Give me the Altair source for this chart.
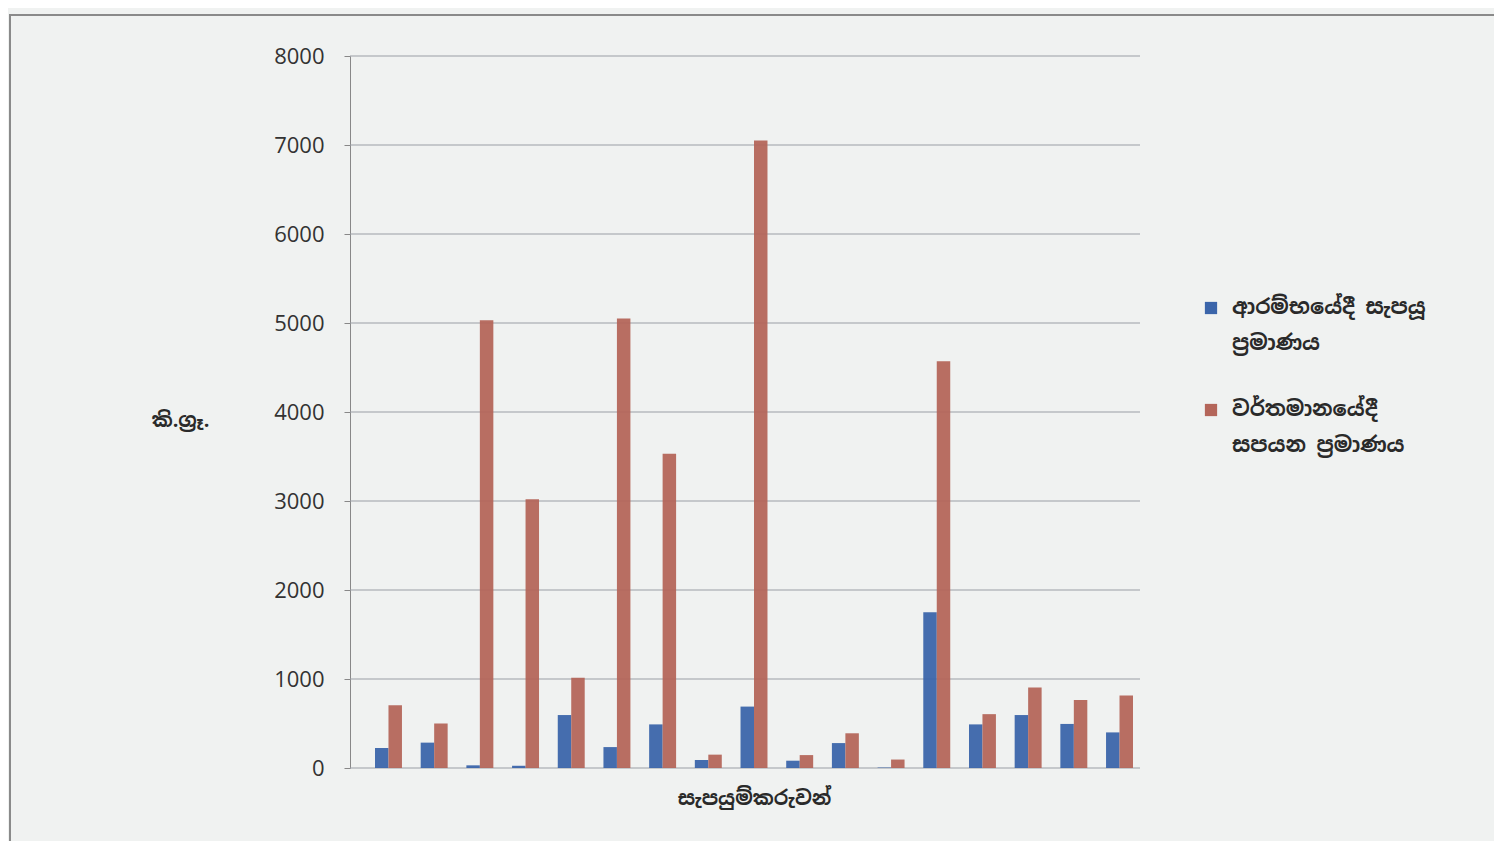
import altair as alt
import pandas as pd

suppliers = [str(i) for i in range(1, 18)]
initial = [225, 285, 30, 25, 595, 235, 490, 90, 690, 82, 280, 5, 1750, 490, 595, 495, 400]
current = [705, 500, 5030, 3020, 1015, 5050, 3530, 150, 7050, 145, 390, 95, 4570, 605, 905, 765, 815]
series = ["ආරම්භයේදී සැපයූ ප්‍රමාණය", "වර්තමානයේදී සපයන ප්‍රමාණය"]
legend_lines = ["ආරම්භයේදී සැපයූ|ප්‍රමාණය", "වර්තමානයේදී|සපයන ප්‍රමාණය"]
colors = ["#3b65aa", "#b4665a"]
y_ticks = list(range(0, 8001, 1000))

rows = []
for i, s in enumerate(suppliers):
    rows.append({"supplier": s, "series": series[0], "value": initial[i]})
    rows.append({"supplier": s, "series": series[1], "value": current[i]})
df = pd.DataFrame(rows)
grid_df = pd.DataFrame({"value": y_ticks})
leg_df = pd.DataFrame({"series": series, "label": legend_lines})

FONT = "Noto Sans Sinhala, Noto Sans, DejaVu Sans, sans-serif"
color_scale = alt.Scale(domain=series, range=colors)
y_scale = alt.Scale(domain=[0, 8000])
y_axis = alt.Axis(title="කි.ග්‍රෑ.", values=y_ticks, format="d", grid=False,
                  labelFontSize=22, labelColor="#333", labelFont="Open Sans",
                  labelPadding=20, tickSize=6, tickColor="#888",
                  domainColor="#888",
                  titleAngle=0, titleX=-170, titleY=364, titleAlign="center",
                  titleBaseline="middle", titleFont=FONT, titleFontSize=20,
                  titleFontWeight="bold", titleColor="#2a2a2a")

grid = alt.Chart(grid_df).mark_rule(color="#9a9ea6", strokeWidth=1.2).encode(
    y=alt.Y("value:Q", scale=y_scale, axis=y_axis),
    x=alt.value(0), x2=alt.value(790),
)

bars = alt.Chart(df).mark_bar(opacity=0.95).encode(
    x=alt.X("supplier:N", sort=suppliers,
            scale=alt.Scale(paddingInner=0.41, paddingOuter=0, range=[25, 783]),
            axis=alt.Axis(title="සැපයුම්කරුවන්", labels=False, ticks=False, domain=False,
                          titleFont=FONT, titleFontSize=20,
                          titleFontWeight="bold", titleColor="#2a2a2a", titlePadding=20)),
    xOffset=alt.XOffset("series:N", sort=series),
    y=alt.Y("value:Q", scale=y_scale, axis=y_axis),
    color=alt.Color("series:N", sort=series, scale=color_scale, legend=None),
)

main = alt.layer(grid, bars)

leg_y = alt.Y("series:N", sort=series,
              scale=alt.Scale(type="point", range=[252, 354], padding=0), axis=None)
leg_squares = alt.Chart(leg_df).mark_square(size=150, opacity=1).encode(
    x=alt.value(861), y=leg_y,
    color=alt.Color("series:N", sort=series, scale=color_scale, legend=None),
)
leg_text = alt.Chart(leg_df).mark_text(
    align="left", baseline="middle", lineBreak="|", lineHeight=36,
    font=FONT, fontSize=21, fontWeight="bold", color="#2a2a2a"
).encode(x=alt.value(882), y=leg_y, text="label:N")
legend = alt.layer(leg_squares, leg_text)

frame = alt.Chart(grid_df).mark_rect(fill=None, stroke="#8a8a8a", strokeWidth=1.5, clip=False).encode(
    x=alt.value(-340), x2=alt.value(1145), y=alt.value(-41), y2=alt.value(800)
)

chart = alt.layer(frame, main, legend).resolve_scale(y="independent").properties(
    width=790, height=712,
    autosize=alt.AutoSizeParams(type="none"),
    padding={"left": 342, "top": 48, "right": 354, "bottom": 73},
    background="#f0f2f1",
).configure_view(stroke=None)

chart.save("out.html", embed_options={"renderer": "svg", "actions": False})
